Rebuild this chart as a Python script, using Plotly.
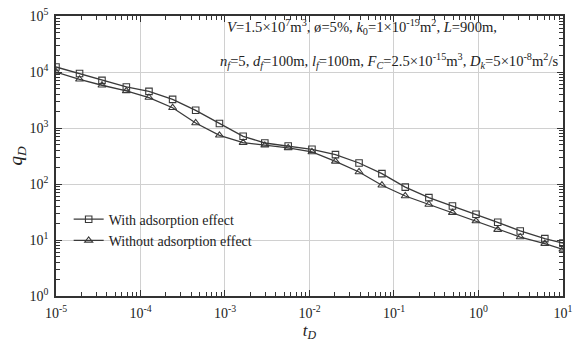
import plotly.graph_objects as go

t_D = [1e-5, 1.9e-5, 3.5e-5, 6.8e-5, 1.26e-4, 2.4e-4, 4.5e-4, 8.6e-4, 1.64e-3,
       2.96e-3, 5.6e-3, 1.07e-2, 2.03e-2, 3.86e-2, 7.2e-2, 0.136, 0.259, 0.492,
       0.935, 1.69, 3.12, 6.1, 10]
q_with = [12300, 9400, 7100, 5400, 4500, 3250, 2070, 1200, 711, 540, 477, 417,
          335, 237, 153, 88, 57, 40.5, 28.8, 20.7, 14.5, 10.6, 8.8]
q_without = [10000, 7400, 5800, 4600, 3500, 2300, 1230, 741, 549, 491, 440, 373,
             254, 164, 95, 61, 43, 30.8, 21.8, 15.3, 11.3, 8.6, 6.8]

x_ticks = [1e-5, 1e-4, 1e-3, 1e-2, 1e-1, 1e0, 1e1]
x_labels = ["10<sup>-5</sup>", "10<sup>-4</sup>", "10<sup>-3</sup>", "10<sup>-2</sup>",
            "10<sup>-1</sup>", "10<sup>0</sup>", "10<sup>1</sup>"]
y_ticks = [1e0, 1e1, 1e2, 1e3, 1e4, 1e5]
y_labels = ["10<sup>0</sup>", "10<sup>1</sup>", "10<sup>2</sup>", "10<sup>3</sup>",
            "10<sup>4</sup>", "10<sup>5</sup>"]

FONT = "Liberation Serif"
col = "#3a3a3a"

fig = go.Figure()
fig.add_trace(go.Scatter(
    x=t_D, y=q_with, mode="lines+markers", name="With adsorption effect",
    line=dict(color=col, width=1.3),
    marker=dict(symbol="square-open", size=6.5, color=col, line=dict(width=1.1)),
    cliponaxis=True))
fig.add_trace(go.Scatter(
    x=t_D, y=q_without, mode="lines+markers", name="Without adsorption effect",
    line=dict(color=col, width=1.3),
    marker=dict(symbol="triangle-up-open", size=7, color=col, line=dict(width=1.1)),
    cliponaxis=True))

axis_common = dict(
    type="log", showline=True, linecolor="#333", linewidth=1.5, mirror="ticks",
    ticks="inside", ticklen=6, tickcolor="#333", tickwidth=1,
    showgrid=True, gridcolor="#d0d0d0", gridwidth=1, zeroline=False,
    tickfont=dict(family=FONT, size=14, color="#222"),
    ticklabelstandoff=3, ticklabeloverflow="allow",
    minor=dict(ticks="inside", ticklen=4, tickcolor="#333", tickwidth=1,
               showgrid=False, dtick="D1"),
)

fig.update_xaxes(axis_common, range=[-5, 1.0005], tickvals=x_ticks, ticktext=x_labels,
                 title=dict(text="<i>t<sub>D</sub></i>", font=dict(family=FONT, size=17, color="#222"),
                            standoff=4))
fig.update_yaxes(axis_common, range=[0, 5], tickvals=y_ticks, ticktext=y_labels,
                 title=dict(text="<i>q<sub>D</sub></i>", font=dict(family=FONT, size=19, color="#222"),
                            standoff=2))

line1 = ("<i>V</i>=1.5×10<sup>7</sup>m<sup>3</sup>, ø=5%, <i>k</i><sub>0</sub>=1×10<sup>-19</sup>m<sup>2</sup>, "
         "<i>L</i>=900m,")
line2 = ("<i>n<sub>f</sub></i>=5, <i>d<sub>f</sub></i>=100m, <i>l<sub>f</sub></i>=100m, "
         "<i>F<sub>C</sub></i>=2.5×10<sup>-15</sup>m<sup>3</sup>, <i>D<sub>k</sub></i>=5×10<sup>-8</sup>m<sup>2</sup>/s")
fig.add_annotation(xref="paper", yref="paper", x=(228 - 56) / 517, y=(296 - 27) / 280,
                   text=line1, showarrow=False, xanchor="left", yanchor="middle",
                   font=dict(family=FONT, size=14.6, color="#222"))
fig.add_annotation(xref="paper", yref="paper", x=(221 - 56) / 517, y=(296 - 61) / 280,
                   text=line2, showarrow=False, xanchor="left", yanchor="middle",
                   font=dict(family=FONT, size=14.6, color="#222"))

fig.update_layout(
    width=576, height=346, margin=dict(l=56, r=3, t=16, b=50),
    paper_bgcolor="white", plot_bgcolor="white",
    font=dict(family=FONT, color="#222"),
    showlegend=True,
    legend=dict(x=0.025, y=0.33, xanchor="left", yanchor="top", bgcolor="rgba(0,0,0,0)",
                font=dict(family=FONT, size=14, color="#222"), tracegroupgap=0),
)

fig.write_html("out.html")
